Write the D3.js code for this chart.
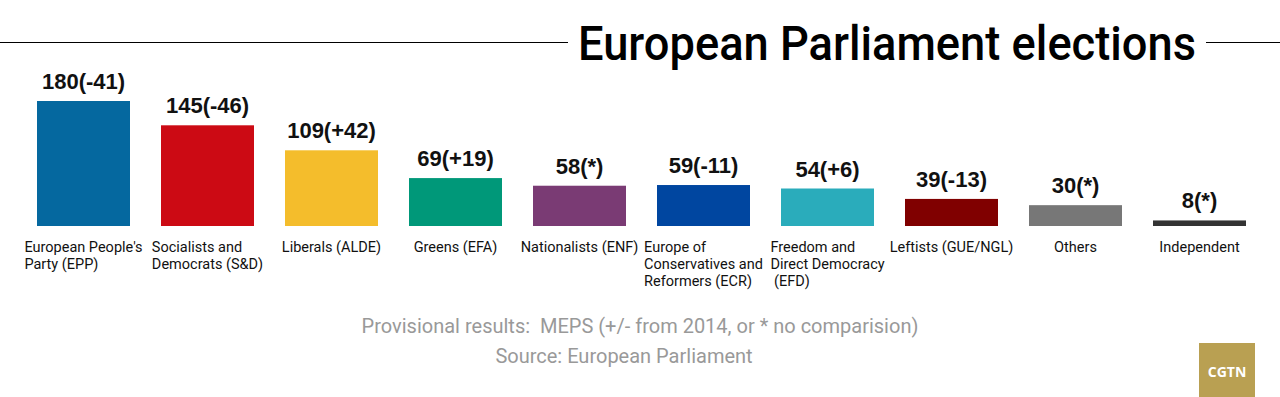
<!DOCTYPE html>
<html>
<head>
<meta charset="utf-8">
<script src="https://cdn.jsdelivr.net/npm/d3@7"></script>
<style>
  body { margin: 0; background: #fff; }
  svg { display: block; }
</style>
</head>
<body>
<script>
// European Parliament elections 2019, provisional seats per group

var groups = ["EPP", "S&D", "ALDE", "EFA", "ENF", "ECR", "EFD", "GUE/NGL", "Others", "Independent"];
var seats = [180, 145, 109, 69, 58, 59, 54, 39, 30, 8];
var change = ["-41", "-46", "+42", "+19", "*", "-11", "+6", "-13", "*", "*"];
var names = [
  ["European People's", "Party (EPP)"],
  ["Socialists and", "Democrats (S&D)"],
  ["Liberals (ALDE)"],
  ["Greens (EFA)"],
  ["Nationalists (ENF)"],
  ["Europe of", "Conservatives and", "Reformers (ECR)"],
  ["Freedom and", "Direct Democracy", " (EFD)"],
  ["Leftists (GUE/NGL)"],
  ["Others"],
  ["Independent"]
];
var colors = ["#05689f", "#cc0a14", "#f4bd2c", "#009879", "#7a3b74", "#0046a0", "#2aacbb", "#800000", "#777777", "#333333"];

var width = 1280,
    height = 397;

var svg = d3.select("body").append("svg")
    .attr("width", width)
    .attr("height", height);

// title with rules either side
svg.append("line")
    .attr("x1", 0).attr("x2", 568)
    .attr("y1", 42.5).attr("y2", 42.5)
    .attr("stroke", "#000");
svg.append("line")
    .attr("x1", 1206).attr("x2", width)
    .attr("y1", 42.5).attr("y2", 42.5)
    .attr("stroke", "#000");
svg.append("text")
    .attr("x", 578)
    .attr("y", 60)
    .attr("font-family", "Roboto, sans-serif")
    .attr("font-weight", 500)
    .attr("font-size", 48)
    .attr("textLength", 618)
    .attr("lengthAdjust", "spacingAndGlyphs")
    .attr("fill", "#000")
    .text("European Parliament elections");

var x = d3.scaleBand()
    .domain(groups)
    .range([37, 1246])
    .paddingInner(0.25)
    .paddingOuter(0);

var y = d3.scaleLinear()
    .domain([0, 180])
    .range([226, 101]);

var color = d3.scaleOrdinal(groups, colors);

var bar = svg.append("g")
  .selectAll("g")
  .data(groups)
  .enter().append("g");

bar.append("rect")
    .attr("x", function(d) { return x(d); })
    .attr("y", function(d, i) { return y(seats[i]); })
    .attr("width", x.bandwidth())
    .attr("height", function(d, i) { return y(0) - y(seats[i]); })
    .attr("fill", function(d) { return color(d); });

bar.append("text")
    .attr("x", function(d) { return x(d) + x.bandwidth() / 2; })
    .attr("y", function(d, i) { return y(seats[i]) - 12; })
    .attr("text-anchor", "middle")
    .attr("font-family", "'Liberation Sans', Arial, sans-serif")
    .attr("font-weight", "bold")
    .attr("font-size", 22)
    .attr("fill", "#111")
    .text(function(d, i) { return seats[i] + "(" + change[i] + ")"; });

// group names: block centred under bar, lines left aligned
bar.each(function(d, i) {
  var t = d3.select(this).append("text")
      .attr("font-family", "Roboto, sans-serif")
      .attr("font-size", 14.5)
      .attr("fill", "#111")
      .attr("y", 252);
  names[i].forEach(function(line, j) {
    t.append("tspan")
        .attr("dy", j ? 17 : 0)
        .attr("xml:space", "preserve")
        .text(line);
  });
  var w = d3.max(t.selectAll("tspan").nodes(), function(n) { return n.getComputedTextLength(); });
  t.selectAll("tspan").attr("x", x(d) + x.bandwidth() / 2 - w / 2);
});

// notes
svg.append("text")
    .attr("x", 640)
    .attr("y", 333)
    .attr("text-anchor", "middle")
    .attr("font-family", "Roboto, sans-serif")
    .attr("font-size", 20)
    .attr("fill", "#999")
    .attr("xml:space", "preserve")
    .text("Provisional results:  MEPS (+/- from 2014, or * no comparision)");

svg.append("text")
    .attr("x", 624)
    .attr("y", 363)
    .attr("text-anchor", "middle")
    .attr("font-family", "Roboto, sans-serif")
    .attr("font-size", 20)
    .attr("fill", "#999")
    .text("Source: European Parliament");

// logo
svg.append("rect")
    .attr("x", 1199).attr("y", 343)
    .attr("width", 56).attr("height", 54)
    .attr("fill", "#b9a052");
svg.append("text")
    .attr("x", 1227).attr("y", 377)
    .attr("text-anchor", "middle")
    .attr("font-family", "'Open Sans', sans-serif")
    .attr("font-weight", "bold")
    .attr("font-size", 14)
    .attr("fill", "#fff")
    .text("CGTN");
</script>
</body>
</html>
